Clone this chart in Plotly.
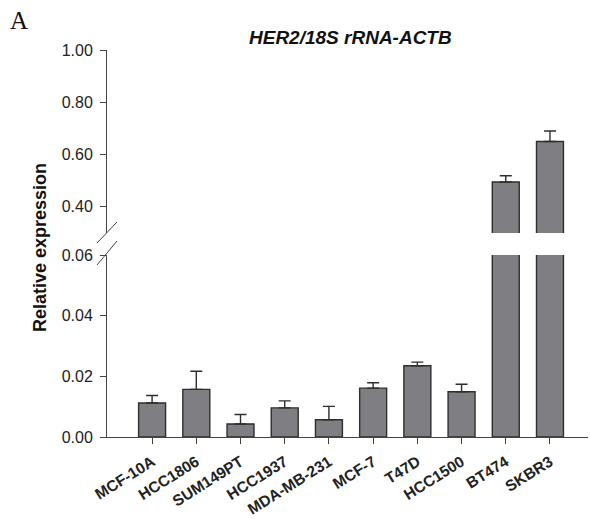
import plotly.graph_objects as go

categories = ["MCF-10A", "HCC1806", "SUM149PT", "HCC1937", "MDA-MB-231",
              "MCF-7", "T47D", "HCC1500", "BT474", "SKBR3"]
values = [0.0112, 0.0157, 0.0043, 0.0096, 0.0057, 0.0161, 0.0235, 0.0149, 0.495, 0.650]
errors = [0.0025, 0.0060, 0.0031, 0.0023, 0.0044, 0.0018, 0.0012, 0.0025, 0.024, 0.040]
lower_ticks = [0.00, 0.02, 0.04, 0.06]
upper_ticks = [0.40, 0.60, 0.80, 1.00]

W, H = 590, 519
L, R, T, B = 107, 2, 50, 82
pw, ph = W - L - R, H - T - B

def px_x(x):
    return (x - L) / pw

def px_y(y):
    return (H - B - y) / ph

bar_style = dict(marker=dict(color="#7f7f83", line=dict(color="#2e2e2e", width=1.4)),
                 width=0.61, showlegend=False)
err_style = dict(type="data", array=errors, symmetric=False, arrayminus=[0] * len(errors),
                 color="#2e2e2e", thickness=1.4, width=6)

fig = go.Figure()
fig.add_trace(go.Bar(x=categories, y=values, error_y=err_style, xaxis="x", yaxis="y", **bar_style))
fig.add_trace(go.Bar(x=categories, y=values, error_y=err_style, xaxis="x2", yaxis="y2", **bar_style))

font_family = "Liberation Sans, Arial, sans-serif"
axis_common = dict(showgrid=False, zeroline=False, showline=True, linecolor="#444",
                   linewidth=1, ticks="outside", ticklen=6, tickcolor="#444", automargin=False)
ytickfont = dict(family=font_family, size=16, color="#222")

lower_top = px_y(255)
upper_bot = px_y(233)

fig.update_layout(
    width=W, height=H,
    margin=dict(l=L, r=R, t=T, b=B),
    paper_bgcolor="white", plot_bgcolor="white",
    xaxis=dict(domain=[0, 1], anchor="y", range=[-1.02, 9.86],
               tickangle=-32, ticklabelstandoff=3, **axis_common,
               tickfont=dict(family=font_family, size=15.5, color="#222", weight="bold")),
    xaxis2=dict(domain=[0, 1], anchor="y2", range=[-1.02, 9.86], visible=False,
                matches="x", automargin=False),
    yaxis=dict(domain=[0, lower_top], anchor="x", range=[0, 0.06], ticklabelstandoff=4,
               tickvals=lower_ticks, tickformat=".2f", tickfont=ytickfont, **axis_common),
    yaxis2=dict(domain=[upper_bot, 1], anchor="x2", range=[0.30, 1.00], ticklabelstandoff=4,
                tickvals=upper_ticks, tickformat=".2f", tickfont=ytickfont, **axis_common),
)

# break marks on the y axis
for (x0, y0, x1, y1) in [(97, 243, 117, 222), (97, 265, 117, 241)]:
    fig.add_shape(type="line", xref="paper", yref="paper",
                  x0=px_x(x0), y0=px_y(y0), x1=px_x(x1), y1=px_y(y1),
                  line=dict(color="#444", width=1))

fig.add_annotation(text="<b><i>HER2/18S rRNA-ACTB</i></b>", xref="paper", yref="paper",
                   x=px_x(350), y=px_y(38), showarrow=False,
                   font=dict(family=font_family, size=19, color="#111"),
                   xanchor="center", yanchor="middle")
fig.add_annotation(text="<b>Relative expression</b>", xref="paper", yref="paper",
                   x=px_x(40), y=px_y(248), showarrow=False, textangle=-90,
                   font=dict(family=font_family, size=18, color="#111"),
                   xanchor="center", yanchor="middle")
fig.add_annotation(text="A", xref="paper", yref="paper",
                   x=px_x(19), y=px_y(20), showarrow=False,
                   font=dict(family="Liberation Serif, Times New Roman, serif", size=25, color="#111"),
                   xanchor="center", yanchor="middle")

fig.write_html("out.html")
